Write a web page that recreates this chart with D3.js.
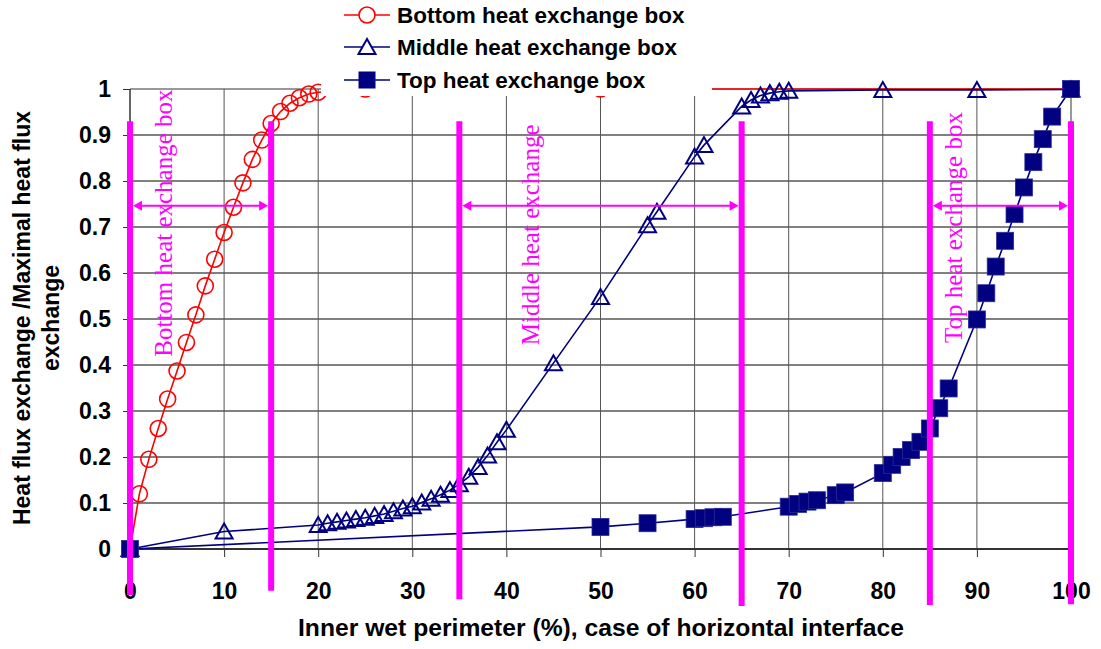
<!DOCTYPE html>
<html>
<head>
<meta charset="utf-8">
<script src="https://d3js.org/d3.v7.min.js"></script>
<style>
body { margin: 0; background: #fff; }
svg text { font-family: "Liberation Sans", Arial, sans-serif; font-weight: bold; fill: #000; }
.note { font-family: "Liberation Serif", "Times New Roman", serif; font-weight: normal; font-size: 25px; }
</style>
</head>
<body>
<div id="chart"></div>
<script>
  // series
  var bottomX = [0, 1, 2, 3, 4, 5, 6, 7, 8, 9, 10, 11, 12, 13, 14, 15, 16, 17, 18, 19, 20, 25, 50, 100];
  var bottomY = [0, 0.12, 0.195, 0.262, 0.326, 0.387, 0.449, 0.509, 0.572, 0.630, 0.688, 0.743, 0.796, 0.847,
                 0.889, 0.925, 0.951, 0.969, 0.981, 0.989, 0.993, 1, 1, 1];

  var middleX = [0, 10, 20, 21, 22, 23, 24, 25, 26, 27, 28, 29, 30, 31, 32, 33, 34, 35, 36, 37, 38, 39, 40,
                 45, 50, 55, 56, 60, 61, 65, 66, 67, 68, 69, 70, 80, 90, 100];
  var middleY = [0, 0.038, 0.052, 0.056, 0.059, 0.062, 0.065, 0.068, 0.072, 0.076, 0.082, 0.088, 0.093, 0.101,
                 0.109, 0.118, 0.128, 0.141, 0.157, 0.178, 0.203, 0.232, 0.259,
                 0.404, 0.548, 0.704, 0.733, 0.853, 0.878, 0.962, 0.976, 0.986, 0.991, 0.994, 0.996, 0.998, 0.998, 0.999];

  var topX = [0, 50, 55, 60, 61, 62, 63, 70, 71, 72, 73, 75, 76, 80, 81, 82, 83, 84, 85, 86, 87,
              90, 91, 92, 93, 94, 95, 96, 97, 98, 100];
  var topY = [0, 0.048, 0.056, 0.065, 0.067, 0.069, 0.070, 0.092, 0.098, 0.103, 0.106, 0.117, 0.123,
              0.165, 0.183, 0.2, 0.215, 0.233, 0.262, 0.306, 0.349,
              0.499, 0.556, 0.614, 0.670, 0.728, 0.786, 0.841, 0.891, 0.94, 1];

  var seriesNames = ["Bottom heat exchange box", "Middle heat exchange box", "Top heat exchange box"];

  var xTicks = [0, 10, 20, 30, 40, 50, 60, 70, 80, 90, 100];
  var yTicks = [0, 0.1, 0.2, 0.3, 0.4, 0.5, 0.6, 0.7, 0.8, 0.9, 1];
  var yTickLabels = ["0", "0.1", "0.2", "0.3", "0.4", "0.5", "0.6", "0.7", "0.8", "0.9", "1"];

  // magenta box limits (x, top, bottom in data units)
  var limitX = [0, 15, 35, 65, 85, 100];
  var limitTop = [0.93, 0.93, 0.93, 0.93, 0.93, 0.93];
  var limitBottom = [-0.1, -0.091, -0.109, -0.124, -0.122, -0.12];

  // double arrows between limits
  var arrowFrom = [0, 35, 85];
  var arrowTo = [15, 65, 100];
  var arrowLevel = 0.746;

  // rotated notes
  var noteText = ["Bottom heat exchange box", "Middle heat exchange", "Top heat exchange box"];
  var noteX = [4.5, 43.5, 88.4];
  var noteY = [0.418, 0.443, 0.448];

  var W = 1101, H = 649;
  var svg = d3.select("#chart").append("svg").attr("width", W).attr("height", H);

  var x = d3.scaleLinear().domain([0, 100]).range([130, 1071]);
  var y = d3.scaleLinear().domain([0, 1]).range([549, 89]);

  var navy = "#000080", red = "#ff0000", magenta = "#ff00ff";

  // grid
  svg.append("g").selectAll("line").data(yTicks.slice(1)).join("line")
    .attr("x1", x(0)).attr("x2", x(100))
    .attr("y1", function(d) { return y(d); }).attr("y2", function(d) { return y(d); })
    .attr("stroke", function(d) { return d == 1 ? "#999" : "#000"; })
    .attr("stroke-width", function(d) { return d == 1 ? 2 : 1; });

  svg.append("g").selectAll("line").data(xTicks.slice(1)).join("line")
    .attr("x1", function(d) { return x(d); }).attr("x2", function(d) { return x(d); })
    .attr("y1", y(1)).attr("y2", y(0))
    .attr("stroke", function(d) { return d == 100 ? "#999" : "#555"; })
    .attr("stroke-width", function(d) { return d == 100 ? 2 : 1; });

  // axes
  var yAxis = svg.append("g").attr("transform", "translate(" + x(0) + ",0)")
    .call(d3.axisLeft(y).tickValues(yTicks).tickSize(7).tickPadding(12)
      .tickFormat(function(d, i) { return yTickLabels[i]; }));
  var xAxis = svg.append("g").attr("transform", "translate(0," + y(0) + ")")
    .call(d3.axisBottom(x).tickValues(xTicks).tickSize(8).tickPadding(26));
  [xAxis, yAxis].forEach(function(g) {
    g.select(".domain").attr("stroke", "#333").attr("stroke-width", 2);
    g.selectAll(".tick line").attr("stroke", "#333");
    g.selectAll("text").style("font-size", "23px").style("font-family", "Liberation Sans, Arial, sans-serif")
      .style("font-weight", "bold").attr("fill", "#000");
  });
  xAxis.select(".domain").attr("d", "M" + x(0) + ",0H" + x(100));
  yAxis.select(".domain").attr("d", "M0," + y(0) + "V" + y(1)).attr("stroke-width", 1.5);

  // series
  function pts(xs, ys) { return xs.map(function(v, i) { return [v, ys[i]]; }); }
  var bottomPts = pts(bottomX, bottomY), middlePts = pts(middleX, middleY), topPts = pts(topX, topY);
  var line = d3.line().x(function(d) { return x(d[0]); }).y(function(d) { return y(d[1]); });

  function triPath(s) { return "M0," + (-s) + "L" + (s + 0.5) + "," + (s - 1) + "L" + (-s - 0.5) + "," + (s - 1) + "Z"; }

  svg.append("path").attr("d", line(bottomPts)).attr("fill", "none").attr("stroke", red).attr("stroke-width", 1.6);
  svg.append("g").selectAll("circle").data(bottomPts).join("circle")
    .attr("cx", function(d) { return x(d[0]); }).attr("cy", function(d) { return y(d[1]); })
    .attr("r", 8).attr("fill", "none").attr("stroke", red).attr("stroke-width", 1.6);

  svg.append("path").attr("d", line(middlePts)).attr("fill", "none").attr("stroke", navy).attr("stroke-width", 1.6);
  svg.append("g").selectAll("path").data(middlePts).join("path")
    .attr("transform", function(d) { return "translate(" + x(d[0]) + "," + y(d[1]) + ")"; })
    .attr("d", triPath(8)).attr("fill", "none").attr("stroke", navy).attr("stroke-width", 2);

  svg.append("path").attr("d", line(topPts)).attr("fill", "none").attr("stroke", navy).attr("stroke-width", 1.6);
  svg.append("g").selectAll("rect").data(topPts).join("rect")
    .attr("x", function(d) { return x(d[0]) - 8.5; }).attr("y", function(d) { return y(d[1]) - 8.5; })
    .attr("width", 17).attr("height", 17).attr("fill", navy).attr("stroke", "#2a2a9a").attr("stroke-width", 0.8);

  // legend
  var leg = svg.append("g");
  leg.append("rect").attr("x", 321).attr("y", 0).attr("width", 391).attr("height", 96).attr("fill", "#fff");
  var legY = [15, 47, 80];
  var legColor = [red, navy, navy];
  seriesNames.forEach(function(name, i) {
    var g = leg.append("g").attr("transform", "translate(0," + legY[i] + ")");
    g.append("line").attr("x1", 344).attr("x2", 390).attr("stroke", legColor[i]).attr("stroke-width", 1.6);
    if (i == 0) g.append("circle").attr("cx", 367).attr("r", 8).attr("fill", "#fff").attr("stroke", red).attr("stroke-width", 1.6);
    if (i == 1) g.append("path").attr("transform", "translate(367,0)").attr("d", triPath(8)).attr("fill", "#fff").attr("stroke", navy).attr("stroke-width", 2);
    if (i == 2) g.append("rect").attr("x", 358.5).attr("y", -8.5).attr("width", 17).attr("height", 17).attr("fill", navy);
    g.append("text").attr("x", 397).attr("y", 8).style("font-size", "22.5px").text(name);
  });

  // magenta box limits
  svg.append("g").selectAll("line").data(limitX).join("line")
    .attr("x1", function(d) { return x(d); }).attr("x2", function(d) { return x(d); })
    .attr("y1", function(d, i) { return y(limitTop[i]); })
    .attr("y2", function(d, i) { return y(limitBottom[i]); })
    .attr("stroke", magenta).attr("stroke-width", 6);

  var arrows = svg.append("g");
  arrowFrom.forEach(function(a, i) {
    var x1 = x(a) + 3, x2 = x(arrowTo[i]) - 3, yy = y(arrowLevel);
    arrows.append("line").attr("x1", x1 + 6).attr("x2", x2 - 6).attr("y1", yy).attr("y2", yy)
      .attr("stroke", magenta).attr("stroke-width", 2);
    arrows.append("path").attr("d", "M" + x1 + "," + yy + "l9,-5v10z").attr("fill", magenta);
    arrows.append("path").attr("d", "M" + x2 + "," + yy + "l-9,-5v10z").attr("fill", magenta);
  });

  noteText.forEach(function(t, i) {
    svg.append("text").attr("class", "note")
      .attr("transform", "translate(" + x(noteX[i]) + "," + y(noteY[i]) + ") rotate(-90)")
      .style("fill", magenta).text(t);
  });

  // axis titles
  svg.append("text").attr("x", 601).attr("y", 636).attr("text-anchor", "middle")
    .style("font-size", "23px").attr("textLength", 606).attr("lengthAdjust", "spacingAndGlyphs")
    .text("Inner wet perimeter (%), case of horizontal interface");

  var yt = svg.append("text").attr("transform", "translate(30,318) rotate(-90)").attr("text-anchor", "middle")
    .style("font-size", "23px");
  yt.append("tspan").attr("x", 0).attr("y", 0).text("Heat flux exchange /Maximal heat flux");
  yt.append("tspan").attr("x", 0).attr("y", 29).text("exchange");
</script>
</body>
</html>
